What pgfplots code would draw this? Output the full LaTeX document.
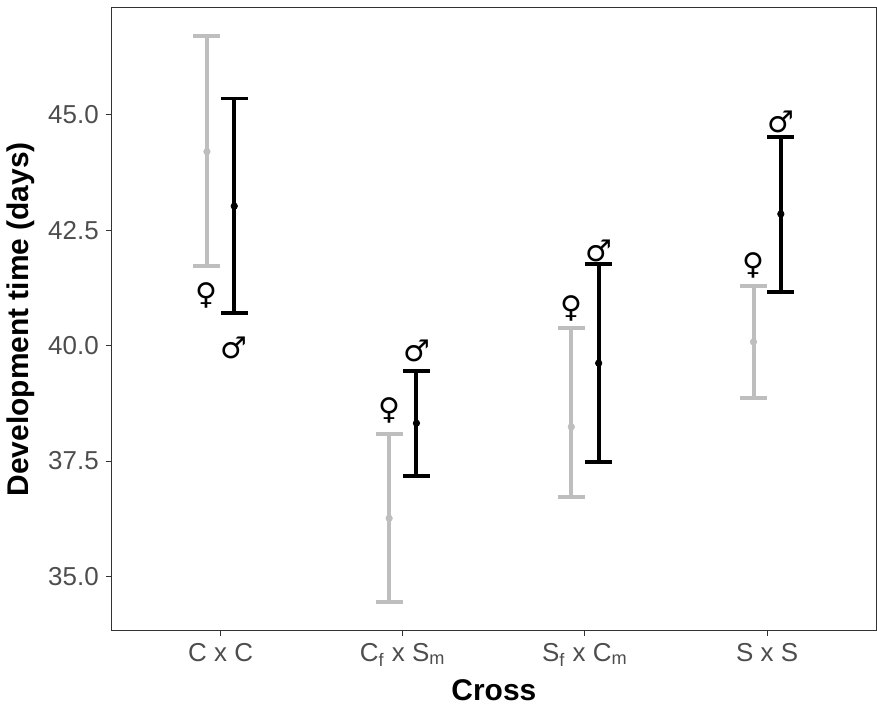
\documentclass[border=0pt]{standalone}
\usepackage{pgfplots}
\pgfplotsset{compat=1.18}
\usepackage{pgfplotstable}
\usepackage{fontspec}
\setmainfont{Liberation Sans}
\newfontfamily\symfont{DejaVu Sans}
\definecolor{fembar}{RGB}{190,190,190}
\definecolor{tickgray}{RGB}{77,77,77}
\definecolor{framegray}{RGB}{51,51,51}

% x, mean, lower, upper
\pgfplotstableread{
x      y      lo     hi
0.925  44.20  41.72  46.71
1.925  36.26  34.44  38.09
2.925  38.24  36.72  40.38
3.925  40.08  38.87  41.29
}\female
\pgfplotstableread{
x      y      lo     hi
1.075  43.02  40.70  45.35
2.075  38.32  37.18  39.45
3.075  39.62  37.47  41.76
4.075  42.85  41.16  44.52
}\male
\pgfplotstableread{
x      y      s
0.925  41.09  ♀
1.925  38.59  ♀
2.925  40.81  ♀
3.925  41.74  ♀
1.075  39.95  ♂
2.075  39.88  ♂
3.075  42.04  ♂
4.075  44.85  ♂
}\symbols

\begin{document}
\begin{tikzpicture}
\begin{axis}[
  scale only axis,
  width=383.5pt, height=312pt,
  xmin=0.4, xmax=4.6,
  ymin=33.83, ymax=47.31,
  xtick={1,2,3,4},
  xticklabels={C x C, C\textsubscript{f} x S\textsubscript{m},
               S\textsubscript{f} x C\textsubscript{m}, S x S},
  ytick={35,37.5,40,42.5,45},
  yticklabel style={/pgf/number format/.cd, fixed, fixed zerofill, precision=1},
  /pgf/number format/assume math mode=true,
  tick label style={font=\fontsize{13}{15}\selectfont, text=tickgray},
  label style={font=\fontsize{15}{17}\selectfont\bfseries},
  xlabel={Cross},
  ylabel={Development time (days)},
  xtick pos=bottom, ytick pos=left,
  tick align=outside,
  major tick length=2.75pt,
  every tick/.style={framegray, line width=0.5pt},
  axis line style={framegray, line width=0.5pt},
  clip=false,
]
\addplot[only marks, fembar, mark=*, mark size=1.6pt,
  error bars/.cd, y dir=both, y explicit,
  error bar style={line width=2pt, fembar},
  error mark options={line width=2pt, mark size=6.75pt, fembar, rotate=90}]
  table[x=x, y=y,
    y error plus expr=\thisrow{hi}-\thisrow{y},
    y error minus expr=\thisrow{y}-\thisrow{lo}] {\female};
\addplot[only marks, black, mark=*, mark size=1.6pt,
  error bars/.cd, y dir=both, y explicit,
  error bar style={line width=2pt, black},
  error mark options={line width=2pt, mark size=6.75pt, black, rotate=90}]
  table[x=x, y=y,
    y error plus expr=\thisrow{hi}-\thisrow{y},
    y error minus expr=\thisrow{y}-\thisrow{lo}] {\male};
\addplot[draw=none, mark=none,
  point meta=explicit symbolic,
  nodes near coords={\symfont\fontsize{15}{15}\selectfont\pgfplotspointmeta},
  nodes near coords align={anchor=center}]
  table[x=x, y=y, meta=s] {\symbols};
\end{axis}
\path (current axis.north east) ++(0,4pt);
\end{tikzpicture}
\end{document}
